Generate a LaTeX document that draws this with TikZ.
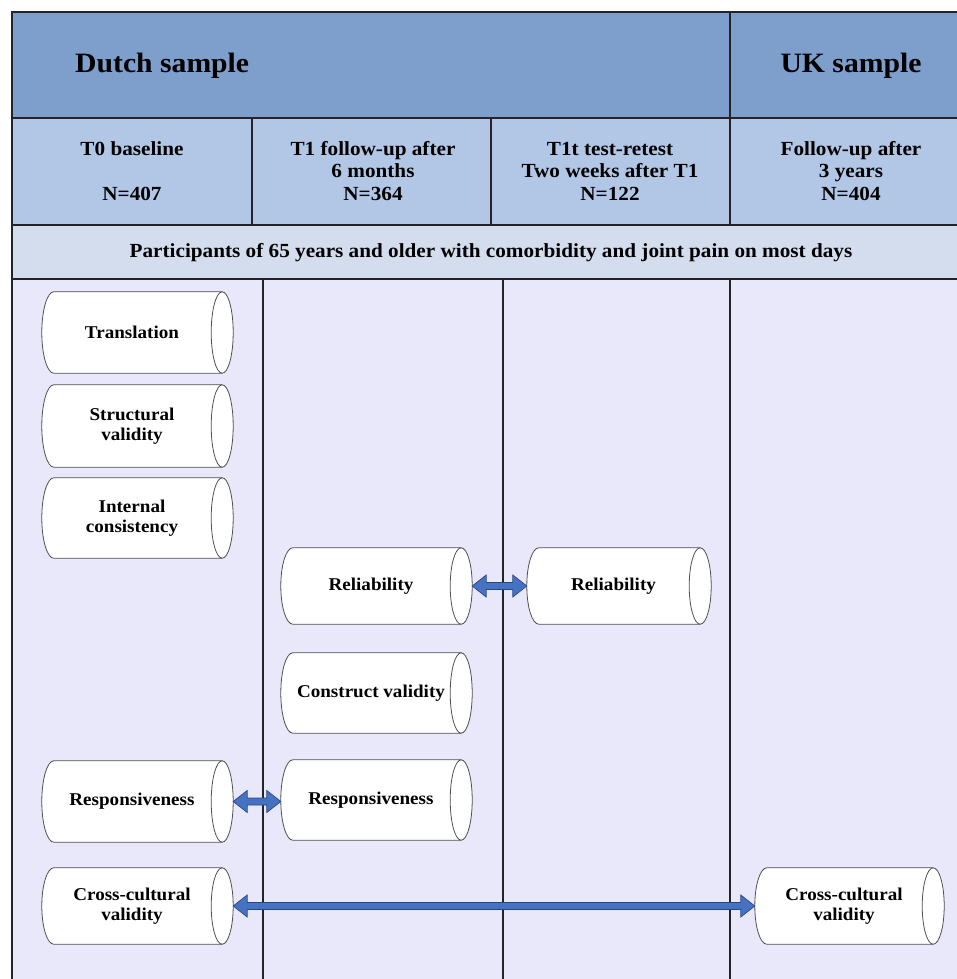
\documentclass[tikz,border=0pt]{standalone}
\usepackage{fontspec}
\setmainfont[FakeStretch=1.06]{Liberation Serif}
\usetikzlibrary{calc}
\definecolor{hdrdark}{RGB}{126,158,204}
\definecolor{hdrlight}{RGB}{178,198,230}
\definecolor{rowband}{RGB}{211,221,238}
\definecolor{bodybg}{RGB}{232,232,250}
\definecolor{gridline}{RGB}{35,35,40}
\definecolor{cylline}{RGB}{80,80,80}
\definecolor{arrowblue}{RGB}{70,114,196}
\definecolor{arrowedge}{RGB}{40,70,130}
\pgfdeclarelayer{bg}
\pgfdeclarelayer{mid}
\pgfsetlayers{bg,mid,main}
\tikzset{
  cylbody/.style={rectangle, inner sep=0pt, align=center, minimum width=180pt,
    font=\bfseries\fontsize{18}{20}\selectfont},
  cylshape/.style={fill=white, draw=cylline, line width=0.8pt},
  hdrtext/.style={inner sep=0pt, align=center, font=\bfseries\fontsize{20}{22.5}\selectfont},
  bigtitle/.style={inner sep=0pt, font=\bfseries\fontsize{28}{32}\selectfont},
  grid/.style={draw=gridline, line width=1.3pt},
  arrowshape/.style={fill=arrowblue, draw=arrowedge, line width=0.7pt, line join=miter},
}
\newcommand{\cylinderof}[1]{%
  \filldraw[cylshape] let \p1=(#1.north), \p2=(#1.south), \n1={(\y1-\y2)/2} in
    ($(#1.north west)+(12pt,0pt)$) -- (#1.north east)
    arc[start angle=90, end angle=-90, x radius=11pt, y radius=\n1]
    -- ($(#1.south west)+(12pt,0pt)$)
    arc[start angle=270, end angle=90, x radius=12pt, y radius=\n1] -- cycle;
  \draw[cylshape, fill=none] let \p1=(#1.north), \p2=(#1.south), \n1={(\y1-\y2)/2} in
    (#1.north east) arc[start angle=90, end angle=270, x radius=11pt, y radius=\n1];
}
\newcommand{\dblarrow}[2]{%
  \coordinate (aa) at ($(#1.east)+(11pt,0pt)$);
  \coordinate (bb) at (aa -| #2.west);
  \filldraw[arrowshape] (aa) -- ++(14pt,11pt) -- ++(0pt,-7.5pt)
    -- ($(bb)+(-14pt,3.5pt)$) -- ++(0pt,7.5pt) -- (bb)
    -- ++(-14pt,-11pt) -- ++(0pt,7.5pt)
    -- ($(aa)+(14pt,-3.5pt)$) -- ++(0pt,-7.5pt) -- cycle;
}
\begin{document}
\begin{tikzpicture}[x=1pt,y=1pt]
\useasboundingbox (0,0) rectangle (957,-979);
% header texts
\node[bigtitle, anchor=base west] (dutch) at (75,-73) {Dutch sample};
\node[bigtitle, anchor=base] (uks) at (851,-73) {UK sample};
\node[hdrtext] (t0) at (132,-171) {T0 baseline\\[22.5pt]N=407};
\node[hdrtext] (t1) at (373,-171) {T1 follow-up after\\6 months\\N=364};
\node[hdrtext] (t1t) at (610,-171) {T1t test-retest\\Two weeks after T1\\N=122};
\node[hdrtext] (uk3) at (851,-171) {Follow-up after\\3 years\\N=404};
\node[hdrtext] (part) at (491,-253) {Participants of 65 years and older with comorbidity and joint pain on most days};
% measurement nodes
\node[cylbody, minimum height=81pt] (tr) at (132,-332.5) {Translation};
\node[cylbody, minimum height=82pt] (sv) at (132,-426) {Structural\\validity};
\node[cylbody, minimum height=80pt] (ic) at (132,-518) {Internal\\consistency};
\node[cylbody, minimum height=76pt] (rel1) at (371,-586) {Reliability};
\node[cylbody, minimum height=76pt, minimum width=173pt] (rel2) at (613.5,-586) {Reliability};
\node[cylbody, minimum height=80pt] (cv) at (371,-693) {Construct validity};
\node[cylbody, minimum height=81pt] (resp0) at (132,-801.5) {Responsiveness};
\node[cylbody, minimum height=80pt] (resp1) at (371,-800) {Responsiveness};
\node[cylbody, minimum height=76pt] (cc0) at (132,-906) {Cross-cultural\\validity};
\node[cylbody, minimum height=76pt, minimum width=178pt] (ccuk) at (844,-906) {Cross-cultural\\validity};
% table background
\begin{pgfonlayer}{bg}
  \fill[white] (0,0) rectangle (957,-979);
  \fill[hdrdark] (12,-12) rectangle (957,-118);
  \fill[hdrlight] (12,-118) rectangle (957,-225);
  \fill[rowband] (12,-225) rectangle (957,-279);
  \fill[bodybg] (12,-279) rectangle (957,-979);
  \draw[grid] (12,-979) -- (12,-12) -- (957,-12);
  \draw[grid] (12,-118) -- (957,-118);
  \draw[grid] (12,-225) -- (957,-225);
  \draw[grid] (12,-279) -- (957,-279);
  \draw[grid] (730,-12) -- (730,-118);
  \draw[grid] (252,-118) -- (252,-225);
  \draw[grid] (491,-118) -- (491,-225);
  \draw[grid] (730,-118) -- (730,-225);
  \draw[grid] (263,-279) -- (263,-979);
  \draw[grid] (503,-279) -- (503,-979);
  \draw[grid] (730,-279) -- (730,-979);
\end{pgfonlayer}
% cylinder outlines
\begin{pgfonlayer}{mid}
  \foreach \nd in {tr,sv,ic,rel1,rel2,cv,resp0,resp1,cc0,ccuk}{\cylinderof{\nd}}
\end{pgfonlayer}
% connectors
\dblarrow{rel1}{rel2}
\dblarrow{resp0}{resp1}
\dblarrow{cc0}{ccuk}
\end{tikzpicture}
\end{document}
